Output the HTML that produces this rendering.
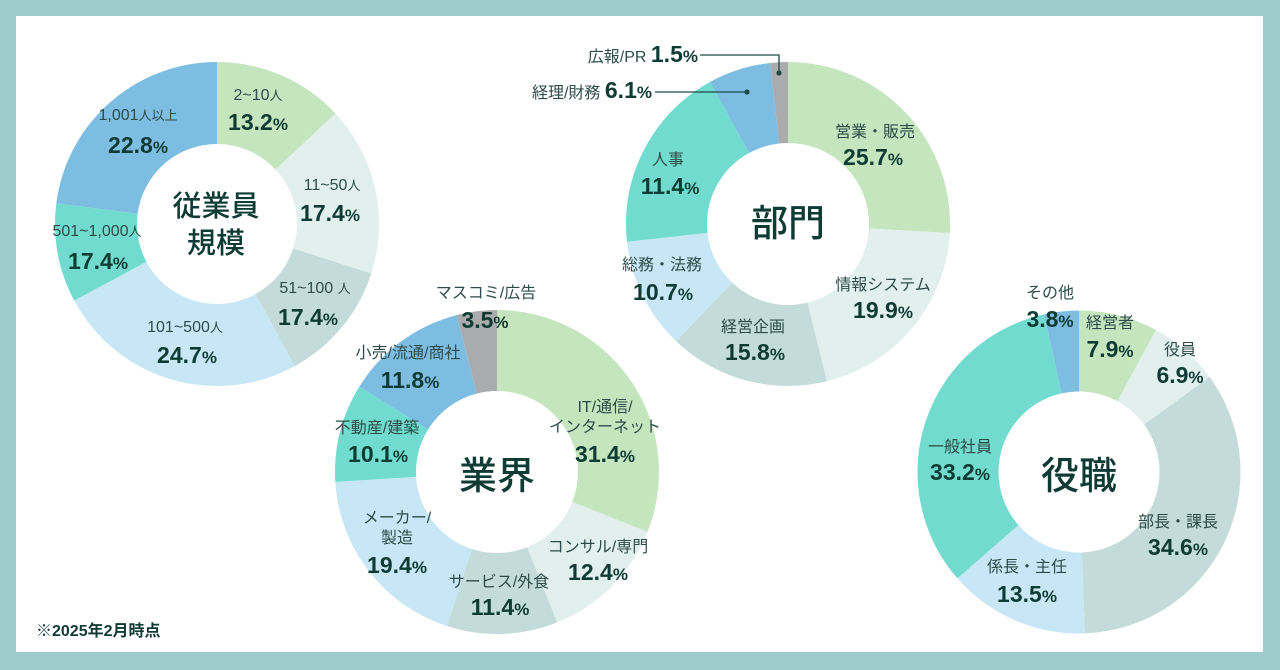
<!DOCTYPE html>
<html><head><meta charset="utf-8">
<style>
html,body{margin:0;padding:0;background:#9ecbcb;}
svg{display:block;}
.l{font-family:"Liberation Sans","Noto Sans CJK JP",sans-serif;font-size:16px;fill:#2d4c49;text-anchor:middle;}
.s{font-size:13px;}
.n{font-family:"Liberation Sans","Noto Sans CJK JP",sans-serif;font-size:23px;font-weight:bold;fill:#0e3b33;text-anchor:middle;}
.p{font-size:17px;}
.t{font-family:"Noto Sans CJK JP","Liberation Sans",sans-serif;font-weight:500;fill:#0e3b33;text-anchor:middle;}
</style></head>
<body>
<svg width="1280" height="670" viewBox="0 0 1280 670" xmlns="http://www.w3.org/2000/svg">
<rect x="0" y="0" width="1280" height="670" fill="#9ecbcb"/>
<rect x="16" y="16" width="1247" height="636" fill="#ffffff"/>

<!-- Chart 1: 従業員規模 -->
<g transform="rotate(-90 217 224)" fill="none" stroke-width="82">
<circle cx="217" cy="224" r="121" pathLength="360" stroke="#c5e5be" stroke-dasharray="47 360" stroke-dashoffset="0"/>
<circle cx="217" cy="224" r="121" pathLength="360" stroke="#e1efed" stroke-dasharray="60.8 360" stroke-dashoffset="-47"/>
<circle cx="217" cy="224" r="121" pathLength="360" stroke="#c3dcd9" stroke-dasharray="43.5 360" stroke-dashoffset="-107.8"/>
<circle cx="217" cy="224" r="121" pathLength="360" stroke="#c8e7f6" stroke-dasharray="90.5 360" stroke-dashoffset="-151.3"/>
<circle cx="217" cy="224" r="121" pathLength="360" stroke="#72dbcf" stroke-dasharray="35.6 360" stroke-dashoffset="-241.8"/>
<circle cx="217" cy="224" r="121" pathLength="360" stroke="#7dbde1" stroke-dasharray="82.6 360" stroke-dashoffset="-277.4"/>
</g>
<text class="t" x="216" y="216" font-size="29">従業員</text>
<text class="t" x="216" y="253" font-size="29">規模</text>
<text class="l" x="258" y="100">2~10<tspan class="s">人</tspan></text>
<text class="n" x="258" y="130">13.2<tspan class="p">%</tspan></text>
<text class="l" x="138" y="120">1,001<tspan class="s">人以上</tspan></text>
<text class="n" x="138" y="153">22.8<tspan class="p">%</tspan></text>
<text class="l" x="332" y="190">11~50<tspan class="s">人</tspan></text>
<text class="n" x="330" y="221">17.4<tspan class="p">%</tspan></text>
<text class="l" x="97" y="236">501~1,000<tspan class="s">人</tspan></text>
<text class="n" x="98" y="269">17.4<tspan class="p">%</tspan></text>
<text class="l" x="315" y="293">51~100 <tspan class="s">人</tspan></text>
<text class="n" x="308" y="325">17.4<tspan class="p">%</tspan></text>
<text class="l" x="185" y="332">101~500<tspan class="s">人</tspan></text>
<text class="n" x="187" y="363">24.7<tspan class="p">%</tspan></text>

<!-- Chart 2: 部門 -->
<g transform="rotate(-90 788 224)" fill="none" stroke-width="81">
<circle cx="788" cy="224" r="121.5" pathLength="360" stroke="#c5e5be" stroke-dasharray="93.2 360" stroke-dashoffset="0"/>
<circle cx="788" cy="224" r="121.5" pathLength="360" stroke="#e1efed" stroke-dasharray="72.9 360" stroke-dashoffset="-93.2"/>
<circle cx="788" cy="224" r="121.5" pathLength="360" stroke="#c3dcd9" stroke-dasharray="57.6 360" stroke-dashoffset="-166.1"/>
<circle cx="788" cy="224" r="121.5" pathLength="360" stroke="#c8e7f6" stroke-dasharray="40 360" stroke-dashoffset="-223.7"/>
<circle cx="788" cy="224" r="121.5" pathLength="360" stroke="#72dbcf" stroke-dasharray="67.5 360" stroke-dashoffset="-263.7"/>
<circle cx="788" cy="224" r="121.5" pathLength="360" stroke="#7dbde1" stroke-dasharray="22.5 360" stroke-dashoffset="-331.2"/>
<circle cx="788" cy="224" r="121.5" pathLength="360" stroke="#a9abad" stroke-dasharray="6.3 360" stroke-dashoffset="-353.7"/>
</g>
<text class="t" x="788" y="236" font-size="37">部門</text>
<polyline points="700,55 779,55 779,73" fill="none" stroke="#1f4a45" stroke-width="1.3"/>
<circle cx="779" cy="73" r="2.6" fill="#1f4a45"/>
<line x1="655" y1="92" x2="747" y2="92" stroke="#1f4a45" stroke-width="1.3"/>
<circle cx="747" cy="92" r="2.6" fill="#1f4a45"/>
<text class="l" x="698" y="62" style="text-anchor:end">広報/PR <tspan style="font-size:23px;font-weight:bold;fill:#0e3b33">1.5</tspan><tspan style="font-size:17px;font-weight:bold;fill:#0e3b33">%</tspan></text>
<text class="l" x="652" y="98" style="text-anchor:end">経理/財務 <tspan style="font-size:23px;font-weight:bold;fill:#0e3b33">6.1</tspan><tspan style="font-size:17px;font-weight:bold;fill:#0e3b33">%</tspan></text>
<text class="l" x="875" y="137">営業・販売</text>
<text class="n" x="873" y="165">25.7<tspan class="p">%</tspan></text>
<text class="l" x="668" y="165">人事</text>
<text class="n" x="670" y="194">11.4<tspan class="p">%</tspan></text>
<text class="l" x="883" y="290">情報システム</text>
<text class="n" x="883" y="318">19.9<tspan class="p">%</tspan></text>
<text class="l" x="662" y="270">総務・法務</text>
<text class="n" x="663" y="300">10.7<tspan class="p">%</tspan></text>
<text class="l" x="753" y="332">経営企画</text>
<text class="n" x="755" y="360">15.8<tspan class="p">%</tspan></text>

<!-- Chart 3: 業界 -->
<g transform="rotate(-90 497 472)" fill="none" stroke-width="81">
<circle cx="497" cy="472" r="121.5" pathLength="360" stroke="#c5e5be" stroke-dasharray="111.7 360" stroke-dashoffset="0"/>
<circle cx="497" cy="472" r="121.5" pathLength="360" stroke="#e1efed" stroke-dasharray="46.5 360" stroke-dashoffset="-111.7"/>
<circle cx="497" cy="472" r="121.5" pathLength="360" stroke="#c3dcd9" stroke-dasharray="39.8 360" stroke-dashoffset="-158.2"/>
<circle cx="497" cy="472" r="121.5" pathLength="360" stroke="#c8e7f6" stroke-dasharray="68.5 360" stroke-dashoffset="-198"/>
<circle cx="497" cy="472" r="121.5" pathLength="360" stroke="#72dbcf" stroke-dasharray="35.3 360" stroke-dashoffset="-266.5"/>
<circle cx="497" cy="472" r="121.5" pathLength="360" stroke="#7dbde1" stroke-dasharray="43.8 360" stroke-dashoffset="-301.8"/>
<circle cx="497" cy="472" r="121.5" pathLength="360" stroke="#a9abad" stroke-dasharray="14.4 360" stroke-dashoffset="-345.6"/>
</g>
<text class="t" x="497" y="489" font-size="38">業界</text>
<text class="l" x="486" y="298">マスコミ/広告</text>
<text class="n" x="485" y="328">3.5<tspan class="p">%</tspan></text>
<text class="l" x="408" y="358">小売/流通/商社</text>
<text class="n" x="410" y="388">11.8<tspan class="p">%</tspan></text>
<text class="l" x="377" y="433">不動産/建築</text>
<text class="n" x="378" y="462">10.1<tspan class="p">%</tspan></text>
<text class="l" x="605" y="412">IT/通信/</text>
<text class="l" x="605" y="432">インターネット</text>
<text class="n" x="605" y="462">31.4<tspan class="p">%</tspan></text>
<text class="l" x="397" y="523">メーカー/</text>
<text class="l" x="397" y="543">製造</text>
<text class="n" x="397" y="573">19.4<tspan class="p">%</tspan></text>
<text class="l" x="598" y="552">コンサル/専門</text>
<text class="n" x="598" y="580">12.4<tspan class="p">%</tspan></text>
<text class="l" x="499" y="587">サービス/外食</text>
<text class="n" x="500" y="615">11.4<tspan class="p">%</tspan></text>

<!-- Chart 4: 役職 -->
<g transform="rotate(-90 1079 472)" fill="none" stroke-width="81">
<circle cx="1079" cy="472" r="121" pathLength="360" stroke="#c5e5be" stroke-dasharray="28.5 360" stroke-dashoffset="0"/>
<circle cx="1079" cy="472" r="121" pathLength="360" stroke="#e1efed" stroke-dasharray="25.4 360" stroke-dashoffset="-28.5"/>
<circle cx="1079" cy="472" r="121" pathLength="360" stroke="#c3dcd9" stroke-dasharray="124 360" stroke-dashoffset="-53.9"/>
<circle cx="1079" cy="472" r="121" pathLength="360" stroke="#c8e7f6" stroke-dasharray="50.9 360" stroke-dashoffset="-177.9"/>
<circle cx="1079" cy="472" r="121" pathLength="360" stroke="#72dbcf" stroke-dasharray="118.7 360" stroke-dashoffset="-228.8"/>
<circle cx="1079" cy="472" r="121" pathLength="360" stroke="#7dbde1" stroke-dasharray="12.5 360" stroke-dashoffset="-347.5"/>
</g>
<text class="t" x="1079" y="489" font-size="38">役職</text>
<text class="l" x="1050" y="298">その他</text>
<text class="n" x="1050" y="327">3.8<tspan class="p">%</tspan></text>
<text class="l" x="1110" y="328">経営者</text>
<text class="n" x="1110" y="357">7.9<tspan class="p">%</tspan></text>
<text class="l" x="1180" y="355">役員</text>
<text class="n" x="1180" y="383">6.9<tspan class="p">%</tspan></text>
<text class="l" x="960" y="452">一般社員</text>
<text class="n" x="960" y="480">33.2<tspan class="p">%</tspan></text>
<text class="l" x="1178" y="527">部長・課長</text>
<text class="n" x="1178" y="555">34.6<tspan class="p">%</tspan></text>
<text class="l" x="1027" y="572">係長・主任</text>
<text class="n" x="1027" y="602">13.5<tspan class="p">%</tspan></text>

<text x="36" y="636" font-family="Liberation Sans, Noto Sans CJK JP, sans-serif" font-size="16" font-weight="bold" fill="#123a35">※2025年2月時点</text>
</svg>
</body></html>
